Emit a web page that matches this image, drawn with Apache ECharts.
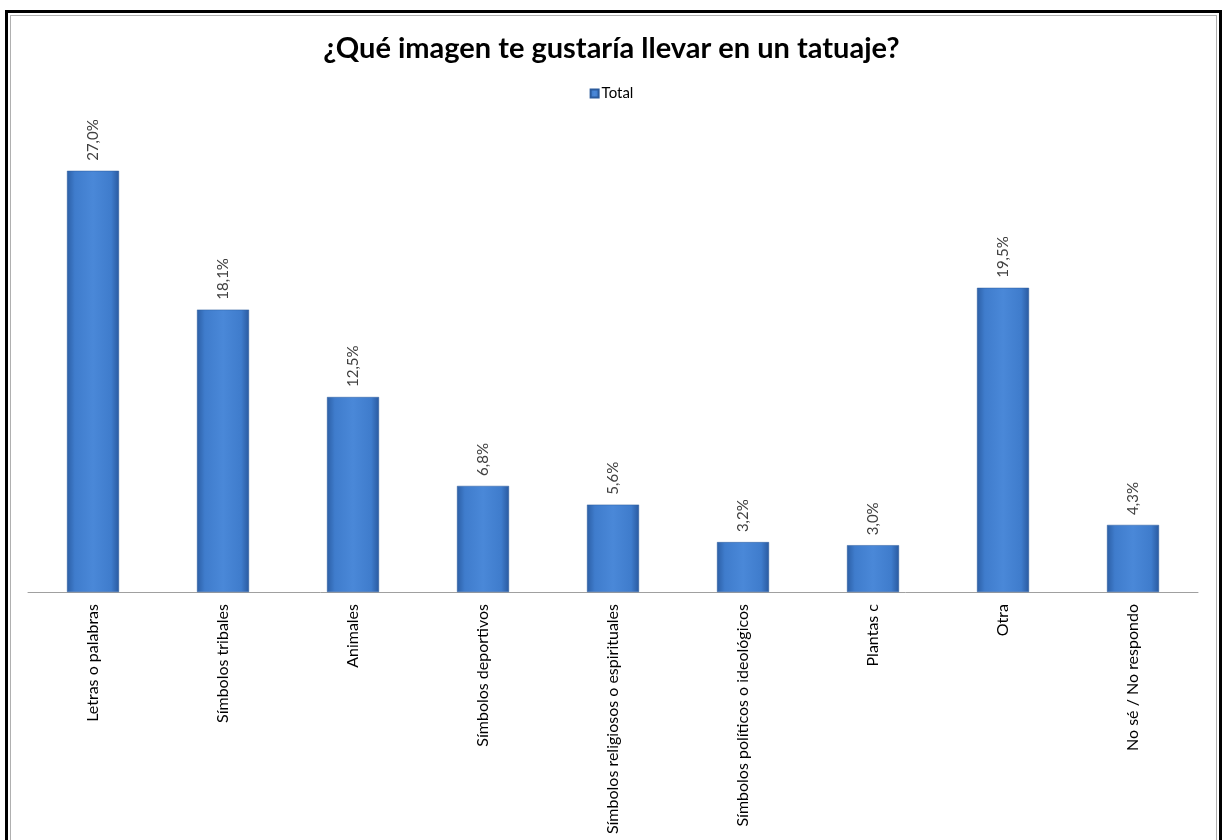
<!DOCTYPE html>
<html>
<head>
<meta charset="utf-8">
<script src="https://cdn.jsdelivr.net/npm/echarts@6/dist/echarts.min.js"></script>
<style>
html,body{margin:0;padding:0;background:#fff;width:1223px;height:840px;overflow:hidden;}
#chart{position:absolute;left:0;top:0;width:1223px;height:840px;}
#outer{position:absolute;left:5px;top:10px;width:1211px;height:840px;border:3px solid #000;border-bottom:none;pointer-events:none;}
#inner{position:absolute;left:10px;top:15px;width:1205px;height:830px;border:1px solid #b0b0b0;border-bottom:none;pointer-events:none;}
</style>
</head>
<body>
<div id="chart"></div>
<div id="outer"></div>
<div id="inner"></div>
<script>
const titleText = '¿Qué imagen te gustaría llevar en un tatuaje?';
const seriesName = 'Total';
const categories = [
  'Letras o palabras',
  'Símbolos tribales',
  'Animales',
  'Símbolos deportivos',
  'Símbolos religiosos o espirituales',
  'Símbolos políticos o ideológicos',
  'Plantas c',
  'Otra',
  'No sé / No respondo'
];
const values = [27.0, 18.1, 12.5, 6.8, 5.6, 3.2, 3.0, 19.5, 4.3];

const chart = echarts.init(document.getElementById('chart'), null, {renderer: 'canvas'});
const barColor = new echarts.graphic.LinearGradient(0, 0, 1, 0, [
  {offset: 0, color: '#2c5fa6'},
  {offset: 0.15, color: '#3f7ccc'},
  {offset: 0.5, color: '#4a88d8'},
  {offset: 0.85, color: '#3f7ccc'},
  {offset: 1, color: '#2a5aa0'}
]);
chart.setOption({
  backgroundColor: '#ffffff',
  animation: false,
  title: {
    text: titleText,
    left: 'center',
    top: 29,
    textStyle: {fontFamily: 'Lato', fontWeight: 'bold', fontSize: 29, color: '#000'}
  },
  legend: {
    data: [seriesName],
    top: 81,
    left: 'center',
    itemWidth: 8,
    itemHeight: 8,
    itemGap: 4,
    icon: 'rect',
    textStyle: {fontFamily: 'Lato', fontSize: 15, color: '#000', padding: [0,0,0,-2]}
  },
  grid: {left: 28, right: 25, top: 124, bottom: 248, containLabel: false},
  xAxis: {
    type: 'category',
    data: categories,
    axisLine: {show: true, lineStyle: {color: '#a0a0a0', width: 1}},
    axisTick: {show: false},
    axisLabel: {
      rotate: 90,
      interval: 0,
      margin: 12,
      fontFamily: 'Lato',
      fontSize: 16,
      color: '#000'
    }
  },
  yAxis: {
    type: 'value',
    min: 0,
    max: 30,
    show: false,
    splitLine: {show: false}
  },
  series: [{
    name: seriesName,
    type: 'bar',
    data: values,
    barWidth: '40%',
    itemStyle: {color: barColor, borderColor: '#2a5a9c', borderWidth: 0.5},
    label: {
      show: true,
      position: 'top',
      rotate: 90,
      align: 'left',
      verticalAlign: 'middle',
      distance: 10,
      fontFamily: 'Lato',
      fontSize: 15,
      color: '#404040',
      formatter: p => p.value.toFixed(1).replace('.', ',') + '%'
    }
  }]
});
</script>
</body>
</html>
